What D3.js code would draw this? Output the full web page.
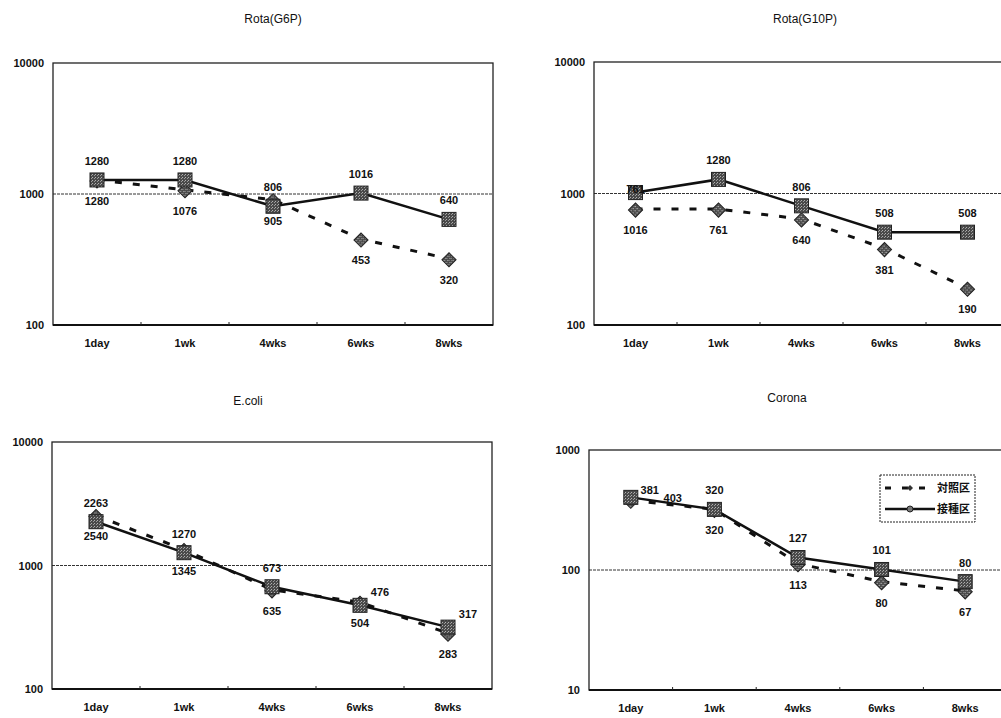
<!DOCTYPE html>
<html>
<head>
<meta charset="utf-8">
<script src="https://cdn.jsdelivr.net/npm/d3@7"></script>
<style>
  body { margin: 0; background: #fff; }
  svg text { font-family: "Liberation Sans", Arial, sans-serif; fill: #111; }
</style>
</head>
<body>
<svg id="chart" width="1001" height="718"></svg>
<script>
// data
const weeks = ["1day", "1wk", "4wks", "6wks", "8wks"];
const seriesNames = ["対照区", "接種区"];   // dashed = control, solid = inoculated

const rotaG6P_control = [1280, 1076, 905, 453, 320];
const rotaG6P_inoc    = [1280, 1280, 806, 1016, 640];

const rotaG10P_control = [761, 761, 640, 381, 190];
const rotaG10P_inoc    = [1016, 1280, 806, 508, 508];

const ecoli_control = [2540, 1345, 635, 504, 283];
const ecoli_inoc    = [2263, 1270, 673, 476, 317];

const corona_control = [381, 320, 113, 80, 67];
const corona_inoc    = [403, 320, 127, 101, 80];

const svg = d3.select('#chart');

// marker texture like the scanned hatch
const defs = svg.append('defs');
const pat = defs.append('pattern')
    .attr('id', 'hatch')
    .attr('width', 3).attr('height', 3)
    .attr('patternUnits', 'userSpaceOnUse');
pat.append('rect').attr('width', 3).attr('height', 3).attr('fill', '#4a4a4a');
pat.append('rect').attr('x', 0).attr('y', 0).attr('width', 1).attr('height', 1).attr('fill', '#b0b0b0');
pat.append('rect').attr('x', 2).attr('y', 1).attr('width', 1).attr('height', 1).attr('fill', '#999');

const panels = [
    { title: "Rota(G6P)", control: rotaG6P_control, inoc: rotaG6P_inoc, domain: [100, 10000],
      left: 53, top: 63, width: 440, height: 262, titleX: 273, titleY: 20 },
    { title: "Rota(G10P)", control: rotaG10P_control, inoc: rotaG10P_inoc, domain: [100, 10000],
      left: 594, top: 62, width: 415, height: 263, titleX: 805, titleY: 20,
      swapFirst: true },
    { title: "E.coli", control: ecoli_control, inoc: ecoli_inoc, domain: [100, 10000],
      left: 52, top: 442, width: 440, height: 247, titleX: 248, titleY: 402,
      rightLabels: [3, 4] },
    { title: "Corona", control: corona_control, inoc: corona_inoc, domain: [10, 1000],
      left: 589, top: 450, width: 418, height: 240, titleX: 787, titleY: 399,
      legend: true, firstRight: true }
];

panels.forEach(p => {
    const g = svg.append('g').attr('transform', `translate(${p.left},${p.top})`);

    const x = d3.scaleBand().domain(weeks).range([0, p.width]);
    const y = d3.scaleLog().domain(p.domain).range([p.height, 0]);
    const cx = d => x(d) + x.bandwidth() / 2;

    svg.append('text')
        .attr('x', p.titleX).attr('y', p.titleY)
        .attr('text-anchor', 'middle')
        .attr('dominant-baseline', 'middle')
        .style('font-size', '12px')
        .text(p.title);

    // middle decade gridline
    const mid = p.domain[0] * 10;
    g.append('line')
        .attr('x1', 0).attr('x2', p.width)
        .attr('y1', y(mid)).attr('y2', y(mid))
        .style('stroke', '#333').style('stroke-width', 1)
        .style('stroke-dasharray', '3,1');

    // frame
    g.append('rect')
        .attr('width', p.width).attr('height', p.height)
        .attr('fill', 'none')
        .style('stroke', '#222').style('stroke-width', 1.3);
    g.append('line')
        .attr('x1', 0).attr('x2', p.width)
        .attr('y1', p.height).attr('y2', p.height)
        .style('stroke', '#111').style('stroke-width', 2);

    // y axis
    const yAxis = d3.axisLeft(y)
        .tickValues([p.domain[0], mid, p.domain[1]])
        .tickFormat(d3.format('d'))
        .tickSize(0).tickPadding(9);
    g.append('g').call(yAxis)
        .call(a => a.select('.domain').remove())
        .selectAll('text')
        .style('font-size', '11px').style('font-weight', 'bold')
        .style('font-family', '"Liberation Sans", Arial, sans-serif');

    // x axis
    const xAxis = d3.axisBottom(x).tickSize(0).tickPadding(14);
    g.append('g').attr('transform', `translate(0,${p.height})`).call(xAxis)
        .call(a => a.select('.domain').remove())
        .selectAll('text')
        .style('font-size', '11px').style('font-weight', 'bold')
        .style('font-family', '"Liberation Sans", Arial, sans-serif');

    // small ticks between categories
    g.selectAll('line.minor')
        .data(weeks.slice(1))
        .enter()
        .append('line')
        .attr('class', 'minor')
        .attr('x1', d => x(d)).attr('x2', d => x(d))
        .attr('y1', p.height).attr('y2', p.height - 3)
        .style('stroke', '#222').style('stroke-width', 1);

    const line = vals => d3.line()
        .x((d, i) => cx(weeks[i]))
        .y(d => y(d))(vals);

    // control: dashed with diamonds
    g.append('path')
        .attr('d', line(p.control))
        .attr('fill', 'none')
        .style('stroke', '#111').style('stroke-width', 3)
        .style('stroke-dasharray', '7,11');

    // inoculated: solid with squares
    g.append('path')
        .attr('d', line(p.inoc))
        .attr('fill', 'none')
        .style('stroke', '#111').style('stroke-width', 2.5);

    g.selectAll('path.diamond')
        .data(p.control)
        .enter()
        .append('path')
        .attr('class', 'diamond')
        .attr('d', d3.symbol().type(d3.symbolSquare).size(100))
        .attr('transform', (d, i) => `translate(${cx(weeks[i])},${y(d) + 1}) rotate(45)`)
        .attr('fill', 'url(#hatch)')
        .style('stroke', '#222').style('stroke-width', 1);

    g.selectAll('rect.square')
        .data(p.inoc)
        .enter()
        .append('rect')
        .attr('class', 'square')
        .attr('x', (d, i) => cx(weeks[i]) - 7)
        .attr('y', d => y(d) - 7)
        .attr('width', 14).attr('height', 14)
        .attr('fill', 'url(#hatch)')
        .style('stroke', '#222').style('stroke-width', 1);

    // data labels: inoculated above, control below
    const labelStyle = sel => sel
        .attr('text-anchor', 'middle')
        .attr('dominant-baseline', 'middle')
        .style('font-size', '11px').style('font-weight', 'bold');

    g.selectAll('text.lab-in')
        .data(p.inoc)
        .enter()
        .append('text')
        .attr('class', 'lab-in')
        .attr('x', (d, i) => {
            if (p.rightLabels && p.rightLabels.includes(i)) return cx(weeks[i]) + 20;
            if (p.firstRight && i === 0) return cx(weeks[i]) + 42;
            return cx(weeks[i]);
        })
        .attr('y', (d, i) => {
            if (p.rightLabels && p.rightLabels.includes(i)) return y(d) - 12;
            if (p.firstRight && i === 0) return y(d) + 2;
            if (p.swapFirst && i === 0) return y(p.control[i]) + 22;
            return y(d) - 18;
        })
        .call(labelStyle)
        .text(d => d);

    g.selectAll('text.lab-ct')
        .data(p.control)
        .enter()
        .append('text')
        .attr('class', 'lab-ct')
        .attr('x', (d, i) => (p.firstRight && i === 0) ? cx(weeks[i]) + 19 : cx(weeks[i]))
        .attr('y', (d, i) => {
            if (p.firstRight && i === 0) return y(d) - 9;
            if (p.swapFirst && i === 0) return y(p.inoc[i]) - 2;
            return y(d) + 22;
        })
        .call(labelStyle)
        .text(d => d);

    if (p.legend) {
        const lg = svg.append('g').attr('transform', 'translate(880,475)');
        lg.append('rect')
            .attr('width', 95).attr('height', 47)
            .attr('fill', '#fff')
            .style('stroke', '#222').style('stroke-width', 1)
            .style('stroke-dasharray', '2,1');
        const rows = lg.selectAll('g.row')
            .data(seriesNames)
            .enter()
            .append('g')
            .attr('class', 'row')
            .attr('transform', (d, i) => `translate(0,${13 + i * 21})`);
        rows.append('line')
            .attr('x1', 5).attr('x2', 55)
            .attr('y1', 0).attr('y2', 0)
            .style('stroke', '#111')
            .style('stroke-width', (d, i) => i === 0 ? 3 : 2.5)
            .style('stroke-dasharray', (d, i) => i === 0 ? '6,11' : null);
        rows.filter((d, i) => i === 0).append('path')
            .attr('d', d3.symbol().type(d3.symbolSquare).size(18))
            .attr('transform', 'translate(30,0) rotate(45)')
            .attr('fill', '#333');
        rows.filter((d, i) => i === 1).append('circle')
            .attr('cx', 30).attr('cy', 0).attr('r', 3)
            .attr('fill', '#777').style('stroke', '#222');
        rows.append('text')
            .attr('x', 57).attr('y', 1)
            .attr('dominant-baseline', 'middle')
            .style('font-family', '"Noto Sans CJK JP", sans-serif')
            .style('font-size', '11px').style('font-weight', 'bold')
            .text(d => d);
    }
});
</script>
</body>
</html>
